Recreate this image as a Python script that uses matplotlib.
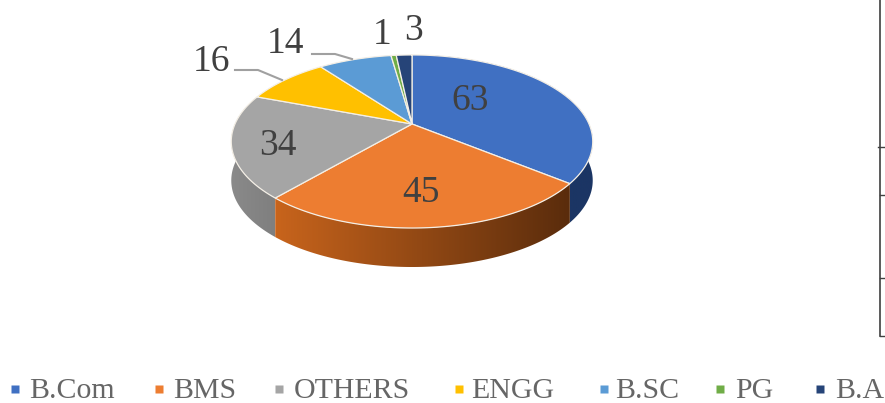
import numpy as np
import matplotlib
matplotlib.use("Agg")
import matplotlib.pyplot as plt
from matplotlib.patches import Polygon
from matplotlib.colors import LinearSegmentedColormap

categories = ["B.Com", "BMS", "OTHERS", "ENGG", "B.SC", "PG", "B.A"]
values = [63, 45, 34, 16, 14, 1, 3]
colors = ["#4070C2", "#ED7D31", "#A5A5A5", "#FFC000", "#5B9BD5", "#70AD47", "#264478"]
side_ramps = [("#1B3564", "#1B3564"), ("#C8641C", "#5A2C0C"), ("#8A8A8A", "#7F7F7F"),
              None, None, None, None]
label_pos = [(470, 101), (421, 193), (278, 146), (211, 62), (285, 44), (382, 35), (414, 31)]
legend_marker_x = [15, 159, 279, 459, 604, 720, 820]
legend_text_x = [29, 173, 294, 471, 615, 735, 835]

plt.rcParams["font.family"] = ["Liberation Serif", "DejaVu Serif"]
fig = plt.figure(figsize=(8.85, 4.03), dpi=100)
ax = fig.add_axes([0, 0, 1, 1])
ax.set_xlim(0, 885)
ax.set_ylim(403, 0)
ax.axis("off")

CX, CY, R, A, K, DEPTH = 412, 124, 177, 83, -0.202, 39


def project(theta):
    u, v = np.sin(theta), -np.cos(theta)
    d = 1 + K * v
    return CX + R * u / d, CY + A * v / d


edges = np.concatenate([[0], np.cumsum(values)]) / sum(values) * 2 * np.pi

# side walls
for i, ramp in enumerate(side_ramps):
    if ramp is None:
        continue
    t = np.linspace(edges[i], edges[i + 1], 120)
    x, y = project(t)
    pts = np.vstack([np.c_[x, y], np.c_[x[::-1], y[::-1] + DEPTH]])
    poly = Polygon(pts, closed=True, fc="none", ec="none", zorder=2)
    ax.add_patch(poly)
    cmap = LinearSegmentedColormap.from_list("r", list(ramp))
    im = ax.imshow(np.linspace(0, 1, 256)[None, :], cmap=cmap, aspect="auto", zorder=2,
                   extent=[x.min(), x.max(), y.max() + DEPTH, y.min()])
    im.set_clip_path(poly)
ax.set_xlim(0, 885)
ax.set_ylim(403, 0)

# top faces
for i, c in enumerate(colors):
    t = np.linspace(edges[i], edges[i + 1], 120)
    x, y = project(t)
    pts = np.vstack([[CX, CY], np.c_[x, y]])
    ax.add_patch(Polygon(pts, closed=True, fc=c, ec="#F4EFE6", lw=0.9, zorder=3))

# leader lines
ax.plot([235, 258, 282], [70, 70, 80], color="#A0A0A0", lw=1.5, zorder=4)
ax.plot([312, 335, 352], [54, 54, 59], color="#A0A0A0", lw=1.5, zorder=4)

# data labels
for v, (lx, ly) in zip(values, label_pos):
    ax.text(lx, ly, str(v), fontsize=27, color="#404040", ha="center", va="center", zorder=5)

# legend
for name, c, mx, tx in zip(categories, colors, legend_marker_x, legend_text_x):
    ax.plot([mx], [389], marker="s", ms=5.5, color=c, mec="none", zorder=5)
    ax.text(tx, 391, name, fontsize=21.5, color="#666666", ha="left", va="center", zorder=5)

# fragment of the neighbouring table at the right edge
ax.plot([880, 880], [0, 336], color="#404040", lw=1.2)
for yy, x0 in zip([147, 195, 278, 336], [878, 880, 880, 880]):
    ax.plot([x0, 885], [yy, yy], color="#404040", lw=1.0)

fig.savefig("out.png", dpi=100)
